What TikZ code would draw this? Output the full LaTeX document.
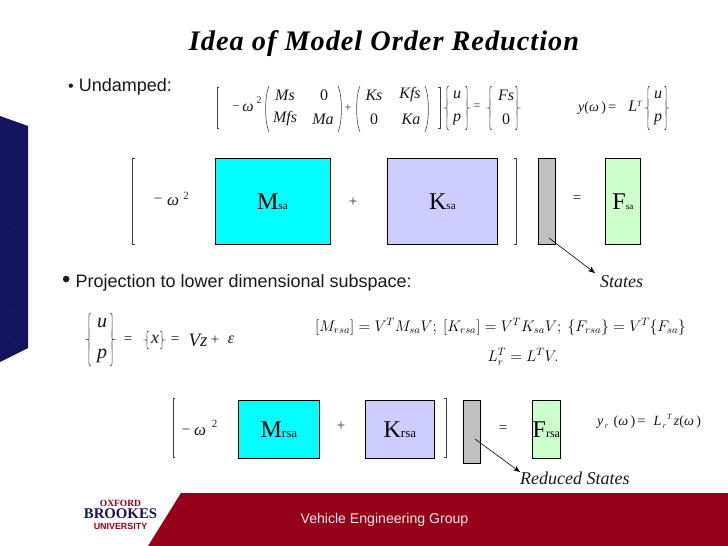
\documentclass[tikz,border=0pt]{standalone}
\usepackage{graphicx}
\usepackage{fontspec}
\setmainfont{Liberation Serif}
\newfontfamily\arialf{Liberation Sans}
\newfontfamily\titlef[LetterSpace=3.5]{Liberation Serif}
\usetikzlibrary{arrows.meta}
\definecolor{navy}{HTML}{14145F}
\definecolor{brookesred}{HTML}{960018}
\definecolor{mcyan}{HTML}{00FFFF}
\definecolor{kblue}{HTML}{CCCCFF}
\definecolor{fgreen}{HTML}{CCFFCC}
\definecolor{sgray}{HTML}{C0C0C0}
\newcommand{\fs}[1]{\fontsize{#1}{#1}\selectfont}
\newcommand{\lbrk}[3]{\draw[brk] (#1+2,#2) -- (#1,#2) -- (#1,#3) -- (#1+2,#3);}
\newcommand{\rbrk}[3]{\draw[brk] (#1-2,#2) -- (#1,#2) -- (#1,#3) -- (#1-2,#3);}
\newcommand{\lpar}[3]{\draw[brk] (#1+3,#2) .. controls (#1-1.5,#2+10) and (#1-1.5,#3-10) .. (#1+3,#3);}
\newcommand{\rpar}[3]{\draw[brk] (#1-3,#2) .. controls (#1+1.5,#2+10) and (#1+1.5,#3-10) .. (#1-3,#3);}
\newcommand{\lbrc}[3]{\draw[brk] (#1+3,#2) .. controls (#1,#2) and (#1+1,#2+3) .. (#1+1,{(#2+#3)/2-2}) .. controls (#1+1,{(#2+#3)/2}) .. (#1-1,{(#2+#3)/2}) .. controls (#1+1,{(#2+#3)/2}) .. (#1+1,{(#2+#3)/2+2}) .. controls (#1+1,#3-3) and (#1,#3) .. (#1+3,#3);}
\newcommand{\rbrc}[3]{\draw[brk] (#1-3,#2) .. controls (#1,#2) and (#1-1,#2+3) .. (#1-1,{(#2+#3)/2-2}) .. controls (#1-1,{(#2+#3)/2}) .. (#1+1,{(#2+#3)/2}) .. controls (#1-1,{(#2+#3)/2}) .. (#1-1,{(#2+#3)/2+2}) .. controls (#1-1,#3-3) and (#1,#3) .. (#1-3,#3);}
\tikzset{
  brk/.style={draw=black!75,line width=0.6pt},
  eq/.style={inner sep=0pt,text=black!90,font=\fs{16}\itshape},
  eqrm/.style={inner sep=0pt,text=black!85,font=\fs{15}},
  expo/.style={inner sep=0pt,text=black!85,font=\fs{10}},
  blt/.style={inner sep=0pt,anchor=west,text=black!90,font=\arialf},
  matbox/.style={draw=black,line width=0.8pt,inner sep=0pt},
  biglab/.style={inner sep=0pt,text=black},
  ptr/.style={draw=black,line width=0.6pt,-{Stealth[length=7pt,width=5.5pt]}},
  caplab/.style={inner sep=0pt,anchor=west,font=\fs{18}\itshape,text=black!90},
}
\begin{document}
\begin{tikzpicture}[x=1pt,y=-1pt]
\useasboundingbox (0,0) rectangle (728,546);
\fill[white] (0,0) rectangle (728,546);
% side band
\fill[navy] (0,116) -- (28,126) -- (28,348) -- (0,362) -- cycle;
\foreach \yy in {227,266,305,343} \fill[black!70!navy] (8.5,\yy) rectangle (9.8,\yy+1.2);
% footer band
\fill[brookesred] (181,493) -- (728,493) -- (728,546) -- (148,546) -- cycle;
\node[inner sep=0pt,text=white!92!brookesred,font=\arialf\fs{14.1}] (grp) at (384.5,520) {Vehicle Engineering Group};
\node[inner sep=0pt,text=brookesred,font=\fs{9.5}\bfseries] (oxf) at (120.5,503) {OXFORD};
\node[inner sep=0pt,text=navy,font=\bfseries\fs{14.8}] (bro) at (120.5,513.5) {BROOKES};
\node[inner sep=0pt,text=brookesred,font=\arialf\bfseries\fs{8.9}] (uni) at (120.5,526) {UNIVERSITY};
% title
\node[inner sep=0pt,font=\titlef\bfseries\itshape\fs{28.3}] (title) at (384,44) {Idea of Model Order Reduction};
% bullets
\node[blt,font=\arialf\fs{18}] (und) at (68,87) {\fs{16}•\hspace{5pt}\fs{18}Undamped:};
\node[blt,font=\arialf\fs{18}] (proj) at (62,283) {\fs{24}•\hspace{5pt}\fs{18}Projection to lower dimensional subspace:};
% equation 1
\lbrk{217}{87}{128}
\node[eqrm,font=\fs{13}] (e1a) at (236,108) {−};
\node[eq] (e1b) at (248,108) {ω};
\node[expo] (e1c) at (259,100) {2};
\lpar{266}{86}{132}
\node[eq] (m11) at (285,95) {Ms};
\node[eq] (m12) at (324,95) {\upshape 0};
\node[eq] (m21) at (285,119) {Mfs};
\node[eq] (m22) at (323,119) {Ma};
\rpar{341}{86}{132}
\node[eqrm,font=\fs{12}] (e1p) at (348,108) {+};
\lpar{357}{86}{132}
\node[eq] (k11) at (374,95) {Ks};
\node[eq] (k12) at (410,95) {Kfs};
\node[eq] (k21) at (374,119) {\upshape 0};
\node[eq] (k22) at (411,119) {Ka};
\rpar{428}{86}{132}
\rbrk{440}{87}{128}
\lbrc{446}{86}{130}
\node[eq] (u1) at (457,95) {u};
\node[eq] (p1) at (457,119) {p};
\rbrc{468}{86}{130}
\node[eqrm,font=\fs{12}] (e1q) at (477,107) {=};
\lbrc{489}{86}{130}
\node[eq] (f1) at (506,95) {Fs};
\node[eq] (f2) at (506,119) {\upshape 0};
\rbrc{518}{86}{130}
\node[eq,font=\fs{14}\itshape,anchor=west] (yy) at (578,108) {y{\upshape (}ω\,{\upshape )\,= }};
\node[eq] (lt) at (635,106) {L\raisebox{5pt}{\fs{8}T}};
\lbrc{647}{86}{130}
\node[eq] (u2) at (658,95) {u};
\node[eq] (p2) at (658,119) {p};
\rbrc{667}{86}{130}
% row 1
\lbrk{132.5}{158}{244}
\node[eqrm] (r1a) at (158,201) {−};
\node[eq,font=\fs{17}\itshape] (r1b) at (173,202) {ω};
\node[expo,font=\fs{11}] (r1c) at (186,196) {2};
\node[matbox,fill=mcyan,anchor=north west,minimum width=115pt,minimum height=86pt] (msa) at (214.5,158) {};
\node[biglab] (msat) at (msa.center) {\fs{24}M\fs{11}sa};
\node[eqrm] (r1p) at (353,202) {+};
\node[matbox,fill=kblue,anchor=north west,minimum width=110pt,minimum height=86pt] (ksa) at (387,158) {};
\node[biglab] (ksat) at (ksa.center) {\fs{24}K\fs{11}sa};
\rbrk{516}{158}{244}
\node[matbox,fill=sgray,anchor=north west,minimum width=17pt,minimum height=86pt] (st) at (537.5,158) {};
\node[eqrm] (r1q) at (577,199) {=};
\node[matbox,fill=fgreen,anchor=north west,minimum width=35pt,minimum height=86pt] (fsa) at (605,158) {};
\node[biglab] (fsat) at (fsa.center) {\fs{24}F\fs{9}sa};
\node[caplab] (statl) at (600,282) {States};
\coordinate (a1s) at (549,238);
\coordinate (a1e) at (595,273);
\draw[ptr] (a1s) -- (a1e);
% projection
\lbrc{88}{313}{366}
\node[eq,font=\fs{20}\itshape] (u3) at (102,323) {u};
\node[eq,font=\fs{20}\itshape] (p3) at (102,356) {p};
\rbrc{113}{313}{366}
\node[eqrm] (q3) at (128,340) {=};
\lbrc{146}{331}{349}
\node[eq,font=\fs{18}\itshape] (x3) at (155,339) {x};
\rbrc{163}{331}{349}
\node[eqrm] (q4) at (175,340) {=};
\node[eq,font=\fs{19}\itshape] (vz) at (198,340) {Vz};
\node[eqrm] (pl3) at (215,340) {+};
\node[eq,font=\fs{16}\itshape] (eps) at (231,340) {ε};
% reduced equations
\node[inner sep=0pt,anchor=west,font=\fs{14}] (rd1) at (315,327) {\scalebox{1.066}{$[M_{rsa}]=V^{T}M_{sa}V;\ [K_{rsa}]=V^{T}K_{sa}V;\ \{F_{rsa}\}=V^{T}\{F_{sa}\}$}};
\node[inner sep=0pt,font=\fs{14}] (rd2) at (523,357) {\scalebox{1.066}{$L_{r}^{T}=L^{T}V.$}};
% row 2
\lbrk{173}{398}{457}
\node[eqrm] (r2a) at (186,432) {−};
\node[eq,font=\fs{17}\itshape] (r2b) at (200,432) {ω};
\node[expo,font=\fs{11}] (r2c) at (214.5,424) {2};
\node[matbox,fill=mcyan,anchor=north west,minimum width=81pt,minimum height=58pt] (mrsa) at (238,400) {};
\node[biglab] (mrsat) at (mrsa.center) {\fs{24}M\fs{13}rsa};
\node[eqrm] (r2p) at (341,426) {+};
\node[matbox,fill=kblue,anchor=north west,minimum width=69pt,minimum height=58pt] (krsa) at (365,400) {};
\node[biglab] (krsat) at (krsa.center) {\fs{24}K\fs{13}rsa};
\rbrk{446}{398}{457}
\node[matbox,fill=sgray,anchor=north west,minimum width=17pt,minimum height=63pt] (rst) at (463,400) {};
\node[eqrm] (r2q) at (503,429) {=};
\node[matbox,fill=fgreen,anchor=north west,minimum width=28pt,minimum height=58pt] (frsa) at (532,400) {};
\node[biglab] (frsat) at (frsa.center) {\fs{24}F\fs{12}rsa};
\node[eq,font=\fs{14}\itshape,anchor=west] (yr) at (597,421) {y\raisebox{-3pt}{\fs{8}\,r}\, {\upshape (}ω\,{\upshape )\,=\,\, }L\raisebox{-3pt}{\fs{8}\,r}\raisebox{6pt}{\fs{8}\,T}\,z{\upshape (}ω\,{\upshape )}};
\node[caplab] (redl) at (520,478) {Reduced States};
\coordinate (a2s) at (475,439);
\coordinate (a2e) at (520,472);
\draw[ptr] (a2s) -- (a2e);
\end{tikzpicture}
\end{document}
